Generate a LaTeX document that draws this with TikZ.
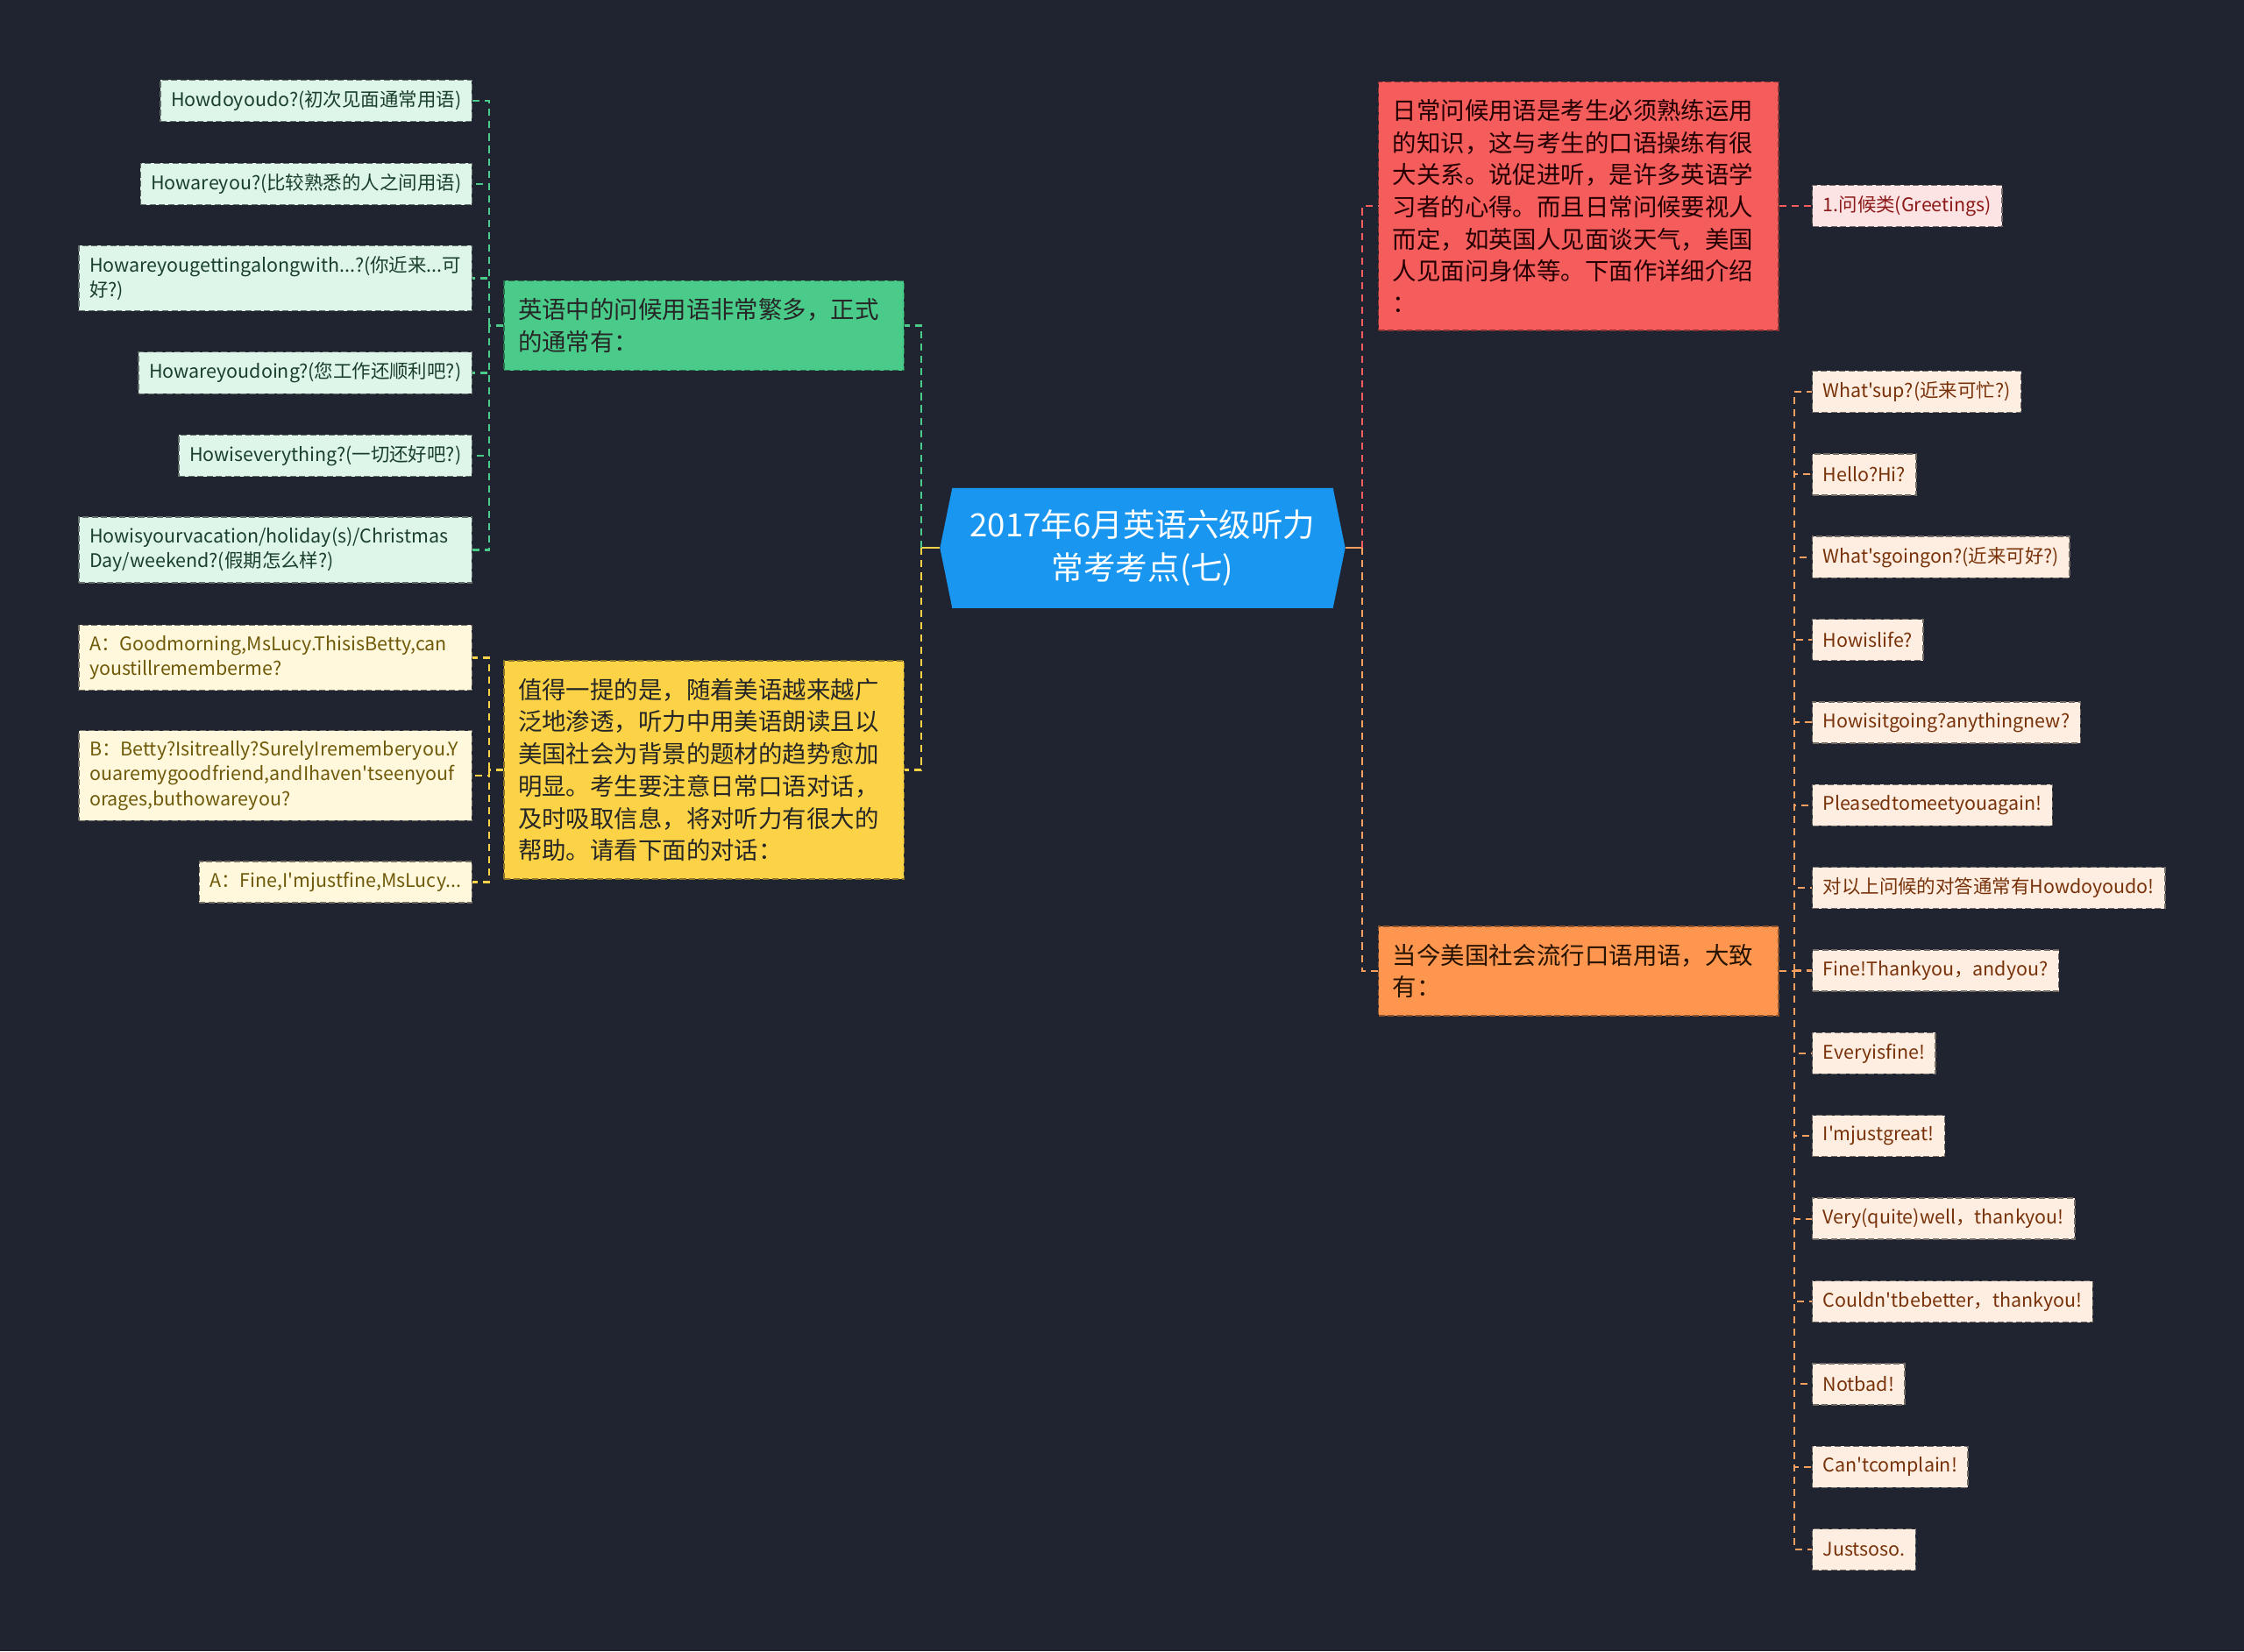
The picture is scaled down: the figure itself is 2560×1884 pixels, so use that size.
\documentclass[tikz,border=0pt]{standalone}
\usepackage{fontspec}
\setmainfont{Noto Sans CJK SC}[Ligatures=TeXOff]
\usetikzlibrary{shapes.symbols,positioning}
\definecolor{bgc}{RGB}{32,36,48}
\definecolor{rootblue}{RGB}{25,151,240}
\definecolor{gfill}{RGB}{74,203,138}
\definecolor{gleaf}{RGB}{222,245,233}
\definecolor{gtext}{RGB}{26,64,44}
\definecolor{yfill}{RGB}{252,211,70}
\definecolor{yleaf}{RGB}{255,248,220}
\definecolor{ytext}{RGB}{110,90,10}
\definecolor{rfill}{RGB}{245,92,92}
\definecolor{rleaf}{RGB}{253,228,228}
\definecolor{rtext}{RGB}{140,25,25}
\definecolor{ofill}{RGB}{255,150,80}
\definecolor{oleaf}{RGB}{254,238,225}
\definecolor{otext}{RGB}{120,50,10}
\definecolor{olink}{RGB}{245,160,95}
\tikzset{
  root/.style={signal, signal to=west and east, signal pointer angle=157, fill=rootblue, text=white, align=center, font=\fontsize{10.4pt}{14pt}\selectfont, minimum width=4.62cm, minimum height=1.37cm, inner sep=0pt},
  topic/.style={rectangle, dash pattern=on 2pt off 1pt, line width=0.4pt, align=left, text width=4.24cm, inner xsep=0.16cm, inner ysep=0.2cm, font=\fontsize{7.8pt}{10.44pt}\selectfont},
  gtopic/.style={topic, fill=gfill, draw=gfill!55!black, text=black!85, minimum height=1cm},
  ytopic/.style={topic, fill=yfill, draw=yfill!55!black, text=black!85},
  rtopic/.style={topic, fill=rfill, draw=rfill!55!black, text=black!85!red},
  otopic/.style={topic, fill=ofill, draw=ofill!55!black, text=black!85!orange, minimum height=1cm},
  leaf/.style={rectangle, dash pattern=on 2pt off 1pt, line width=0.4pt, align=left, inner xsep=0.12cm, inner ysep=0.12cm, minimum height=0.47cm, font=\fontsize{6.1pt}{8pt}\selectfont},
  wide/.style={text width=4.24cm},
  gleafs/.style={leaf, fill=gleaf, draw=gleaf!45!black, text=gtext},
  yleafs/.style={leaf, fill=yleaf, draw=yleaf!45!black, text=ytext},
  rleafs/.style={leaf, fill=rleaf, draw=rleaf!45!black, text=rtext},
  oleafs/.style={leaf, fill=oleaf, draw=oleaf!45!black, text=otext},
  link/.style={dash pattern=on 2.3pt off 1.7pt, line width=0.6pt},
  glink/.style={link, draw=gfill},
  ylink/.style={link, draw=yfill},
  rlink/.style={link, draw=rfill},
  olinks/.style={link, draw=olink},
}
\begin{document}
\begin{tikzpicture}[x=0.01cm, y=-0.01cm]
\useasboundingbox (0,0) rectangle (2560,1884);
\fill[bgc] (0,0) rectangle (2560,1884);

\node[root] (root) at (1303.5,625.3) {2017年6月英语六级听力\\常考考点(七)};

\node[gtopic, anchor=east] (formal) at (1032,371.5) {英语中的问候用语非常繁多，正式\\的通常有：};
\node[ytopic, anchor=east] (notice) at (1032,878.5) {值得一提的是，随着美语越来越广\\泛地渗透，听力中用美语朗读且以\\美国社会为背景的题材的趋势愈加\\明显。考生要注意日常口语对话，\\及时吸取信息，将对听力有很大的\\帮助。请看下面的对话：};
\node[rtopic, anchor=west] (daily) at (1572,235) {日常问候用语是考生必须熟练运用\\的知识，这与考生的口语操练有很\\大关系。说促进听，是许多英语学\\习者的心得。而且日常问候要视人\\而定，如英国人见面谈天气，美国\\人见面问身体等。下面作详细介绍\\：};
\node[otopic, anchor=west] (usa) at (1572,1108) {当今美国社会流行口语用语，大致\\有：};

\node[gleafs, anchor=east] (f1) at (539,115) {Howdoyoudo?(初次见面通常用语)};
\node[gleafs, anchor=east] (f2) at (539,210) {Howareyou?(比较熟悉的人之间用语)};
\node[gleafs, wide, anchor=east] (f3) at (539,317.5) {Howareyougettingalongwith...?(你近来...可\\好?)};
\node[gleafs, anchor=east] (f4) at (539,425.5) {Howareyoudoing?(您工作还顺利吧?)};
\node[gleafs, anchor=east] (f5) at (539,520) {Howiseverything?(一切还好吧?)};
\node[gleafs, wide, anchor=east] (f6) at (539,627.5) {Howisyourvacation/holiday(s)/Christmas\\Day/weekend?(假期怎么样?)};

\node[yleafs, wide, anchor=east] (d1) at (539,750.5) {A：Goodmorning,MsLucy.ThisisBetty,can\\youstillrememberme?};
\node[yleafs, wide, anchor=east] (d2) at (539,885) {B：Betty?Isitreally?SurelyIrememberyou.Y\\ouaremygoodfriend,andIhaven'tseenyouf\\orages,buthowareyou?};
\node[yleafs, anchor=east] (d3) at (539,1006.5) {A：Fine,I'mjustfine,MsLucy...};

\node[rleafs, anchor=west] (greet) at (2067,235) {1.问候类(Greetings)};

\node[oleafs, anchor=west] (u1) at (2067,447) {What'sup?(近来可忙?)};
\node[oleafs, anchor=west] (u2) at (2067,541.4) {Hello?Hi?};
\node[oleafs, anchor=west] (u3) at (2067,635.7) {What'sgoingon?(近来可好?)};
\node[oleafs, anchor=west] (u4) at (2067,730.1) {Howislife?};
\node[oleafs, anchor=west] (u5) at (2067,824.4) {Howisitgoing?anythingnew?};
\node[oleafs, anchor=west] (u6) at (2067,918.8) {Pleasedtomeetyouagain!};
\node[oleafs, anchor=west] (u7) at (2067,1013.2) {对以上问候的对答通常有Howdoyoudo!};
\node[oleafs, anchor=west] (u8) at (2067,1107.5) {Fine!Thankyou，andyou?};
\node[oleafs, anchor=west] (u9) at (2067,1201.9) {Everyisfine!};
\node[oleafs, anchor=west] (u10) at (2067,1296.2) {I'mjustgreat!};
\node[oleafs, anchor=west] (u11) at (2067,1390.6) {Very(quite)well，thankyou!};
\node[oleafs, anchor=west] (u12) at (2067,1485) {Couldn'tbebetter，thankyou!};
\node[oleafs, anchor=west] (u13) at (2067,1579.3) {Notbad!};
\node[oleafs, anchor=west] (u14) at (2067,1673.7) {Can'tcomplain!};
\node[oleafs, anchor=west] (u15) at (2067,1768) {Justsoso.};

\coordinate (lt) at (1051,625.3);
\coordinate (rt) at (1554,625.3);
\coordinate (gt) at (558,371.5);
\coordinate (yt) at (558,878.5);
\coordinate (ot) at (2047,1108);

\draw[yfill, line width=0.6pt] (root.west) -- (lt);
\draw[olink, line width=0.6pt] (root.east) -- (rt);
\draw[glink] (lt) |- (formal.east);
\draw[ylink] (lt) |- (notice.east);
\draw[rlink] (rt) |- (daily.west);
\draw[olinks] (rt) |- (usa.west);
\draw[rlink] (daily.east) -- (greet.west);

\draw[glink] (formal.west) -- (gt);
\foreach \n in {f1,f2,f3,f4,f5,f6}
  \draw[glink] (gt) |- (\n.east);
\draw[ylink] (notice.west) -- (yt);
\foreach \n in {d1,d2,d3}
  \draw[ylink] (yt) |- (\n.east);
\draw[olinks] (usa.east) -- (ot);
\foreach \i in {1,...,15}
  \draw[olinks] (ot) |- (u\i.west);
\end{tikzpicture}
\end{document}
